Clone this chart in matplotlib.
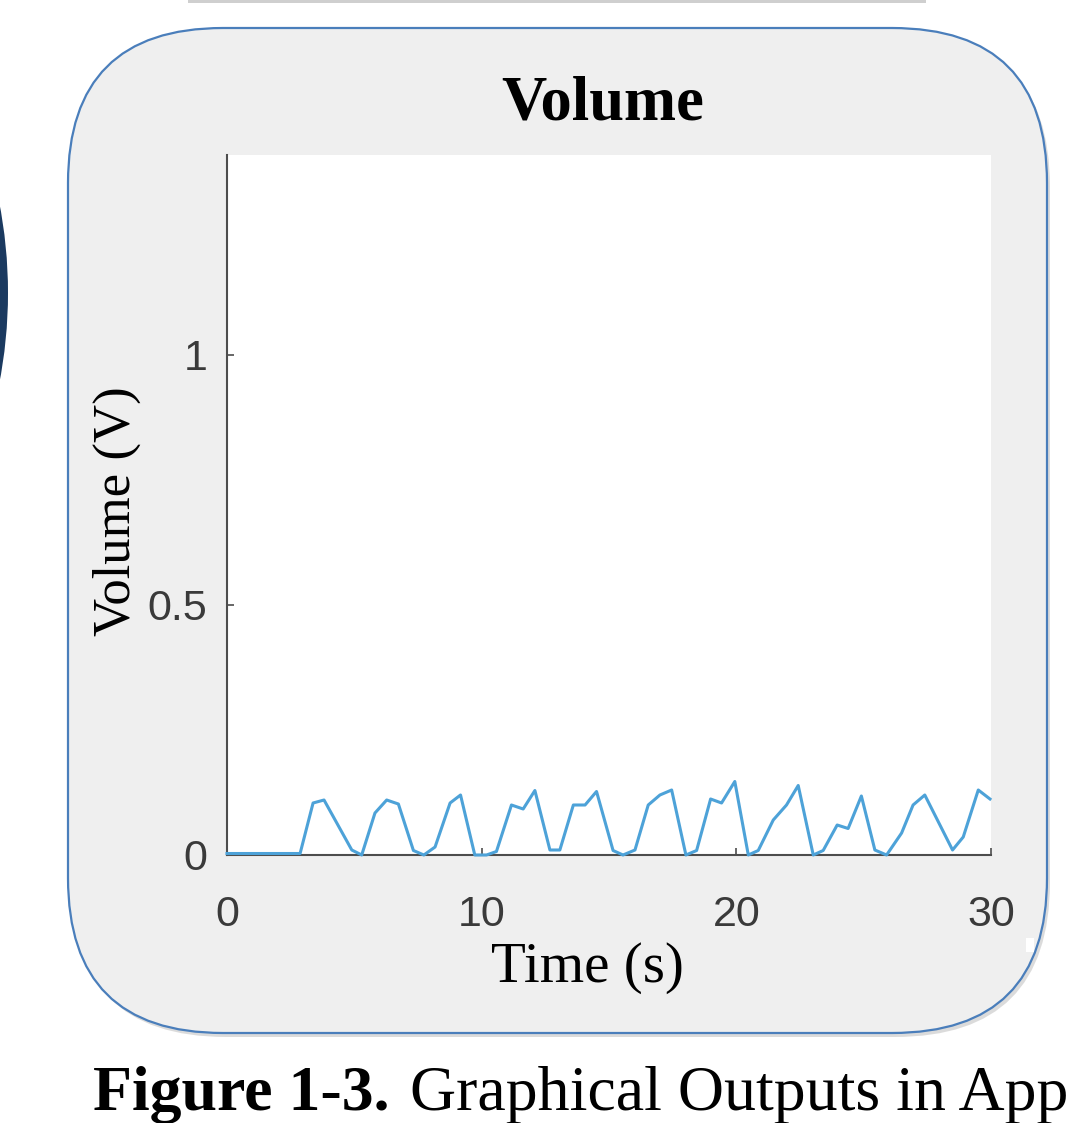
import matplotlib
matplotlib.use("Agg")
import matplotlib.pyplot as plt
import matplotlib.transforms as mtransforms
from matplotlib.patches import FancyBboxPatch, Circle, Rectangle

# volume trace (time in s, volume in V)
time_s = [0.0, 2.87, 3.38, 3.81, 4.90, 5.29, 5.81, 6.27, 6.73, 7.32, 7.73, 8.17,
          8.76, 9.17, 9.73, 10.19, 10.58, 11.17, 11.63, 12.09, 12.68, 13.07,
          13.60, 14.06, 14.51, 15.16, 15.55, 16.02, 16.54, 17.00, 17.46, 18.02,
          18.44, 18.99, 19.42, 19.94, 20.47, 20.86, 21.45, 21.97, 22.43, 23.02,
          23.41, 23.96, 24.39, 24.91, 25.44, 25.90, 26.49, 26.94, 27.40, 28.49,
          28.91, 29.50, 29.96]
volume_v = [0.003, 0.003, 0.104, 0.110, 0.010, 0.0, 0.084, 0.110, 0.102, 0.009,
            0.0, 0.016, 0.104, 0.120, 0.0, 0.0, 0.007, 0.100, 0.092, 0.129,
            0.010, 0.010, 0.100, 0.100, 0.127, 0.009, 0.0, 0.010, 0.100, 0.120,
            0.130, 0.0, 0.009, 0.112, 0.104, 0.147, 0.0, 0.009, 0.070, 0.100,
            0.139, 0.0, 0.009, 0.060, 0.053, 0.118, 0.010, 0.0, 0.044, 0.100,
            0.120, 0.010, 0.036, 0.130, 0.112]
x_ticks = [0, 10, 20, 30]
y_ticks = [0, 0.5, 1]
y_tick_labels = ["0", "0.5", "1"]

W, H = 1077, 1123
fig = plt.figure(figsize=(W / 100, H / 100), dpi=100)
fig.patch.set_facecolor("white")
pix = mtransforms.IdentityTransform()

def top(y):
    # screenshot y (from top) -> pixel y from bottom
    return H - y

# navy shape peeking in at the left edge
fig.add_artist(Circle((-465, top(293)), 473, transform=pix,
                      facecolor="#1b3a60", edgecolor="none", zorder=0))
# shadow of the panel above
fig.add_artist(Rectangle((188, top(3)), 738, 6, transform=pix,
                         facecolor="#cfcfcf", edgecolor="none", zorder=0))

# rounded panel with a soft shadow
x0, x1, y0, y1 = 68, 1047, 28, 1033
fig.add_artist(FancyBboxPatch((x0 + 3, top(y1) - 4), x1 - x0, y1 - y0,
                              boxstyle="round,pad=0,rounding_size=155",
                              transform=pix, facecolor="#c4c4c4",
                              edgecolor="none", alpha=0.6, zorder=0.5))
fig.add_artist(FancyBboxPatch((x0, top(y1)), x1 - x0, y1 - y0,
                              boxstyle="round,pad=0,rounding_size=155",
                              transform=pix, facecolor="#efefef",
                              edgecolor="#4a7ebb", linewidth=1.6, zorder=0.6))
fig.add_artist(Rectangle((1026, top(952)), 8, 14, transform=pix,
                         facecolor="white", edgecolor="none", zorder=0.7))

ax = fig.add_axes([227 / W, top(855) / H, (991 - 227) / W, (855 - 155) / H])
ax.set_zorder(2)
ax.set_facecolor("white")
ax.plot(time_s, volume_v, color="#4da2d8", linewidth=2.2, clip_on=False, zorder=3)
ax.set_xlim(0, 30)
ax.set_ylim(0, 1.4)
ax.set_xticks(x_ticks)
ax.set_yticks(y_ticks)
ax.set_yticklabels(y_tick_labels)
for s in ["top", "right"]:
    ax.spines[s].set_visible(False)
for s in ["left", "bottom"]:
    ax.spines[s].set_color("#4d4d4d")
    ax.spines[s].set_linewidth(1.5)
ax.tick_params(direction="in", length=5, width=1.2, colors="#4d4d4d",
               labelcolor="#3a3a3a")
ax.tick_params(axis="x", pad=29)
ax.tick_params(axis="y", pad=14)
for lab in ax.get_xticklabels() + ax.get_yticklabels():
    lab.set_fontfamily("Liberation Sans")
    lab.set_fontsize(31)

fig.text(603 / W, top(120) / H, "Volume", ha="center", va="baseline",
         family="Liberation Serif", weight="bold", fontsize=45)
fig.text(117 / W, top(511) / H, "Volume (V)", ha="center", va="center",
         rotation=90, family="Liberation Serif", fontsize=38)
fig.text(587 / W, top(968) / H, "Time (s)", ha="center", va="center",
         family="Liberation Serif", fontsize=41)

fig.text(93 / W, top(1110) / H, "Figure 1-3.", ha="left", va="baseline",
         family="Liberation Serif", weight="bold", fontsize=46)
fig.text(410 / W, top(1110) / H, "Graphical Outputs in App", ha="left",
         va="baseline", family="Liberation Serif", fontsize=46)

fig.savefig("out.png", dpi=100)
